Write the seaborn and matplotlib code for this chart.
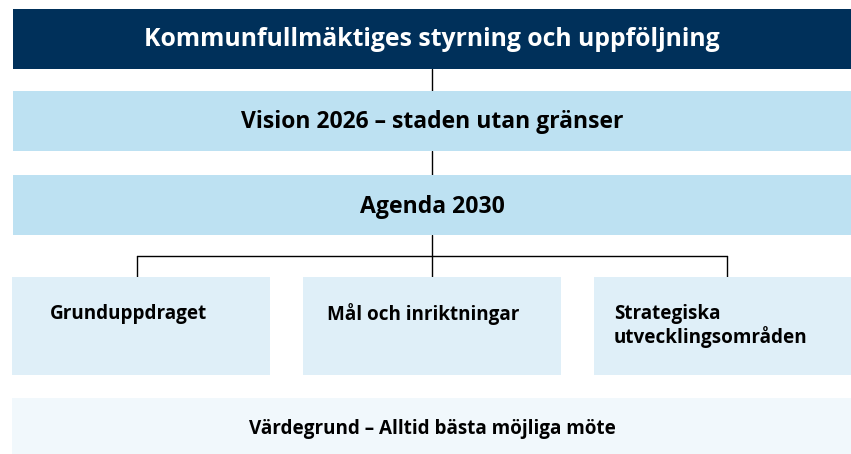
import matplotlib.pyplot as plt
import matplotlib.patches as mpatches
import seaborn as sns

# Diagram content
top_label = "Kommunfullmäktiges styrning och uppföljning"
vision_label = "Vision 2026 – staden utan gränser"
agenda_label = "Agenda 2030"
pillar_labels = ["Grunduppdraget", "Mål och inriktningar",
                 "Strategiska\nutvecklingsområden"]
base_label = "Värdegrund – Alltid bästa möjliga möte"

NAVY = "#00305A"
BLUE1 = "#BDE1F2"
BLUE2 = "#DFEFF8"
BLUE3 = "#F1F8FC"

sns.set_theme(style="white")
plt.rcParams["font.family"] = ["Open Sans", "DejaVu Sans"]

W, H = 851, 454
fig = plt.figure(figsize=(W / 100, H / 100), dpi=100)
ax = fig.add_axes([0, 0, 1, 1])
ax.set_xlim(0, W)
ax.set_ylim(H, 0)
ax.axis("off")


def box(x0, y0, x1, y1, color):
    ax.add_patch(mpatches.Rectangle((x0, y0), x1 - x0, y1 - y0,
                                    facecolor=color, edgecolor="none", zorder=1))


# connectors
cx = 432
line_kw = dict(color="black", lw=1.0, zorder=0)
ax.plot([cx, cx], [69, 91], **line_kw)
ax.plot([cx, cx], [151, 175], **line_kw)
ax.plot([cx, cx], [235, 277], **line_kw)
ax.plot([137, 727], [256, 256], **line_kw)
ax.plot([137, 137], [256, 277], **line_kw)
ax.plot([727, 727], [256, 277], **line_kw)

# stacked bands
box(13, 9, 851, 69, NAVY)
ax.text(cx, 40, top_label, color="white", fontsize=17.8, fontweight="bold",
        ha="center", va="center")
box(13, 91, 851, 151, BLUE1)
ax.text(cx, 122, vision_label, color="black", fontsize=16.5, fontweight="bold",
        ha="center", va="center")
box(13, 175, 851, 235, BLUE1)
ax.text(cx, 207, agenda_label, color="black", fontsize=16.6, fontweight="bold",
        ha="center", va="center")

# three pillars
pillar_x = [(12, 270), (303, 561), (594, 851)]
pillar_indent = [38, 24, 20]
for (x0, x1), dx, label in zip(pillar_x, pillar_indent, pillar_labels):
    box(x0, 277, x1, 375, BLUE2)
    ax.text(x0 + dx, 314 if "\n" not in label else 326, label, color="black",
            fontsize=13.6, fontweight="bold", ha="left", va="center",
            linespacing=1.1)

# foundation
box(12, 398, 851, 454, BLUE3)
ax.text(cx, 429, base_label, color="black", fontsize=13.6, fontweight="bold",
        ha="center", va="center")

fig.savefig("out.png", dpi=100)
